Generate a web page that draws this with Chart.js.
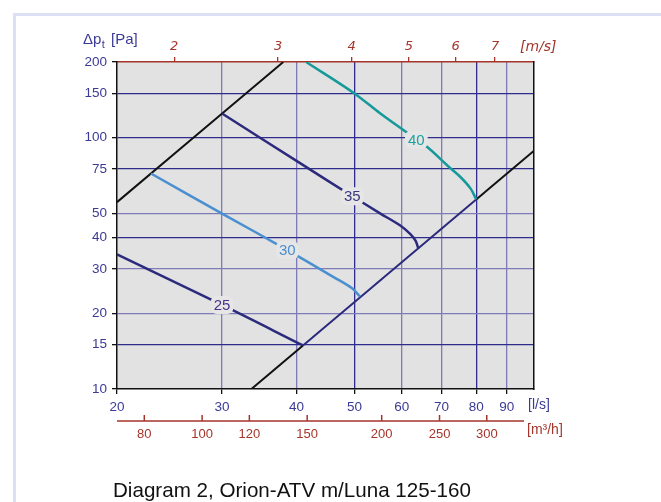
<!DOCTYPE html>
<html lang="en">
<head>
<meta charset="UTF-8">
<title>Diagram 2, Orion-ATV m/Luna 125-160</title>
<script src="https://cdn.jsdelivr.net/npm/chart.js"></script>
<style>
  html, body { margin: 0; padding: 0; background: #fff; overflow: hidden; }
  .frame { position: absolute; left: 13px; top: 13px; width: 700px; height: 540px;
           border-left: 3px solid #dde0f3; border-top: 3px solid #dde0f3; }
  #wrap { position: absolute; left: 0; top: 0; width: 661px; height: 502px; }
  .caption { position: absolute; left: 113px; top: 478px; margin: 0;
             font: 20.6px "Liberation Sans", Arial, sans-serif; color: #111; white-space: nowrap; }
</style>
</head>
<body>
<div class="frame"></div>
<div id="wrap"><canvas id="chart" width="661" height="502"></canvas></div>
<p class="caption">Diagram 2, Orion-ATV m/Luna 125-160</p>

<script>
// axis ticks
const flowTicks = [20, 30, 40, 50, 60, 70, 80, 90];          // l/s
const pressureTicks = [10, 15, 20, 30, 40, 50, 75, 100, 150, 200]; // Pa
const velocityTicks = [2, 3, 4, 5, 6, 7];                     // m/s
const m3hTicks = [80, 100, 120, 150, 200, 250, 300];          // m3/h

// fan curves [l/s, Pa]
const curve25 = [[20, 34.3], [30, 21.6], [41, 14.9]];
const curve30 = [[22.8, 72], [30, 49.9], [38.6, 35.7], [46, 28], [49.5, 25.2], [51.1, 23.3]];
const curve35 = [[30, 124.7], [40.6, 79], [49.6, 58.5], [55.2, 50], [59.6, 44.8], [62, 41.4], [63.3, 38.9], [64, 36.2]];
const curve40 = [[41.5, 200], [50, 150], [55.2, 125], [60.8, 106], [66.3, 91.6], [71.5, 77.7], [75.2, 69.9], [78.3, 62.7], [80, 56.8]];

// system lines
const systemUpper = [[20, 55.4], [38, 200]];
const systemLower = [[33.6, 10], [41, 14.9], [80, 56.8], [100, 88.7]];

// curve labels [l/s, Pa, text]
const curveLabels = [[30, 21.6, '25'], [38.6, 35.7, '30'], [49.6, 58.5, '35'], [63.5, 98, '40']];

const ductArea = Math.PI * 0.125 * 0.125 / 4; // Ø125 duct, m2
const toVel = q => q / 1000 / ductArea;

const NAVY = '#2c2a7c';
const LBLUE = '#4a8fd0';
const TEAL = '#15999a';
const BLACK = '#111111';
const RED = '#a5352b';
const TXT = '#3b3a96';
const PLOT_BG = '#e2e2e2';
const GRID_DARK = '#302c8e';
const GRID_LIGHT = '#7e7bb8';
const darkX = [50, 80];
const darkY = [15, 40, 75, 100, 150];

const toXY = arr => arr.map(([x, y]) => ({ x, y }));
const line = (data, color, width) => ({
  data: toXY(data), borderColor: color, borderWidth: width,
  pointRadius: 0, fill: false, tension: 0.35
});

const sans = '"Liberation Sans", Arial, sans-serif';

const extras = {
  id: 'extras',
  beforeDraw(chart) {
    const { ctx, chartArea: a } = chart;
    ctx.save();
    ctx.fillStyle = PLOT_BG;
    ctx.fillRect(a.left, a.top, a.right - a.left, a.bottom - a.top);
    ctx.restore();
  },
  afterDatasetsDraw(chart) {
    const { ctx } = chart;
    const xs = chart.scales.x, ys = chart.scales.y;
    const colors = { '25': '#4a3288', '30': LBLUE, '35': '#3a3680', '40': '#1ba3a3' };
    ctx.save();
    ctx.font = '15px ' + sans;
    ctx.textAlign = 'center';
    ctx.textBaseline = 'middle';
    curveLabels.forEach(([q, p, t]) => {
      const x = xs.getPixelForValue(q), y = ys.getPixelForValue(p);
      const w = ctx.measureText(t).width + 6;
      ctx.fillStyle = '#e6e6e6';
      ctx.beginPath();
      ctx.roundRect(x - w / 2, y - 9, w, 18, 6);
      ctx.fill();
      ctx.fillStyle = colors[t];
      ctx.fillText(t, x, y + 1);
    });
    ctx.restore();
  },
  afterDraw(chart) {
    const { ctx, chartArea: a } = chart;
    const xs = chart.scales.x;
    ctx.save();
    // m3/h axis
    const yAx = 421;
    ctx.strokeStyle = RED;
    ctx.lineWidth = 1.5;
    ctx.beginPath();
    ctx.moveTo(a.left, yAx);
    ctx.lineTo(a.right - 10, yAx);
    ctx.stroke();
    ctx.font = '13px ' + sans;
    ctx.fillStyle = RED;
    ctx.textAlign = 'center';
    ctx.textBaseline = 'middle';
    m3hTicks.forEach(v => {
      const x = xs.getPixelForValue(v / 3.6);
      ctx.beginPath();
      ctx.moveTo(x, yAx);
      ctx.lineTo(x, yAx - 6);
      ctx.stroke();
      ctx.fillText(String(v), x, 434);
    });
    // unit labels
    ctx.textAlign = 'left';
    ctx.font = '14px ' + sans;
    ctx.fillText('[m³/h]', 527, 430);
    ctx.fillStyle = TXT;
    ctx.fillText('[l/s]', 528, 405);
    ctx.font = 'italic 14px "DejaVu Sans", Verdana, sans-serif';
    ctx.fillStyle = RED;
    ctx.fillText('[m/s]', 520, 47);
    // pressure label
    ctx.fillStyle = TXT;
    ctx.font = '15px ' + sans;
    ctx.fillText('Δp', 83, 40);
    const w = ctx.measureText('Δp').width;
    ctx.font = '11px ' + sans;
    ctx.fillText('t', 83 + w + 0.5, 45);
    ctx.font = '15px ' + sans;
    ctx.fillText('[Pa]', 111, 40);
    ctx.restore();
  }
};

new Chart(document.getElementById('chart'), {
  type: 'line',
  data: {
    datasets: [
      line(curve40, TEAL, 2.5),
      line(curve35, NAVY, 2.5),
      line(curve30, LBLUE, 2.5),
      line(curve25, NAVY, 2.5),
      line(systemUpper, BLACK, 2),
      Object.assign(line(systemLower, BLACK, 2), {
        tension: 0,
        segment: { borderColor: c => c.p0DataIndex === 1 ? NAVY : BLACK }
      })
    ]
  },
  options: {
    responsive: false,
    devicePixelRatio: 1,
    animation: false,
    parsing: false,
    layout: { padding: { left: 72, top: 32, right: 127, bottom: 79 } },
    plugins: { legend: { display: false }, tooltip: { enabled: false } },
    scales: {
      x: {
        type: 'logarithmic', position: 'bottom', min: 20, max: 100,
        afterBuildTicks: s => { s.ticks = flowTicks.map(v => ({ value: v })); },
        afterFit: s => { s.height = 34; },
        ticks: { callback: v => String(v), color: TXT, font: { family: sans, size: 13.5 },
                 padding: 5, maxRotation: 0, autoSkip: false },
        grid: {
          color: c => (c.tick && c.tick.value === 20) ? 'rgba(0,0,0,0)' :
                      (c.tick && darkX.includes(c.tick.value) ? GRID_DARK : GRID_LIGHT),
          lineWidth: 1.3, tickColor: BLACK, tickLength: 5
        },
        border: { color: BLACK, width: 1.5 }
      },
      x2: {
        type: 'logarithmic', position: 'top', min: toVel(20), max: toVel(100),
        afterBuildTicks: s => { s.ticks = velocityTicks.map(v => ({ value: v })); },
        afterFit: s => { s.height = 30; },
        ticks: { callback: v => String(v), color: RED,
                 font: { family: '"DejaVu Sans", Verdana, sans-serif', size: 13, style: 'italic' },
                 padding: 3, maxRotation: 0, autoSkip: false },
        grid: { drawOnChartArea: false, tickColor: RED, tickLength: 5, lineWidth: 1.3 },
        border: { color: RED, width: 1.5 }
      },
      y: {
        type: 'logarithmic', position: 'left', min: 10, max: 200,
        afterBuildTicks: s => { s.ticks = pressureTicks.map(v => ({ value: v })); },
        afterFit: s => { s.width = 45; },
        ticks: { callback: v => String(v), color: TXT, font: { family: sans, size: 13.5 },
                 padding: 5, autoSkip: false },
        grid: {
          color: c => (c.tick && (c.tick.value === 10 || c.tick.value === 200)) ? 'rgba(0,0,0,0)' :
                      (c.tick && darkY.includes(c.tick.value) ? GRID_DARK : GRID_LIGHT),
          lineWidth: 1.3, tickColor: BLACK, tickLength: 5
        },
        border: { color: BLACK, width: 1.5 }
      },
      y2: {
        type: 'logarithmic', position: 'right', min: 10, max: 200,
        afterFit: s => { s.width = 0; },
        ticks: { display: false },
        grid: { display: false, drawTicks: false },
        border: { color: BLACK, width: 1.5 }
      }
    }
  },
  plugins: [extras]
});
</script>
</body>
</html>
